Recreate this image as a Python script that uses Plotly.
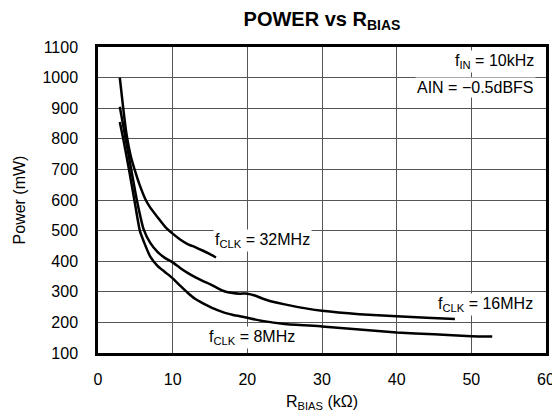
import plotly.graph_objects as go

# Data (R_BIAS in kOhm, Power in mW)
x32 = [2.92, 3.4, 3.8, 4.4, 5.0, 5.6, 6.4, 7.0, 8.0, 9.0, 10.0, 11.0, 12.0, 13.0, 14.0, 15.0, 15.8]
p32 = [1000, 895, 818, 742, 692, 648, 600, 575, 543, 512, 490, 471, 456, 446, 435, 423, 412]

x16 = [2.92, 3.7, 4.45, 5.2, 6.1, 7.0, 8.0, 9.0, 10.0, 11.0, 12.0, 13.0, 14.0, 15.0, 16.0, 17.0, 18.0,
       19.0, 20.0, 21.0, 22.0, 23.0, 24.0, 26.0, 28.0, 30.0, 35.0, 40.0, 44.0, 47.8]
p16 = [905, 800, 700, 600, 505, 460, 430, 410, 396, 378, 362, 348, 336, 325, 312, 301, 296,
       294, 294, 288, 278, 270, 264, 254, 245, 238, 227, 220, 215, 211]

x8 = [2.92, 3.38, 4.15, 4.87, 5.6, 6.2, 7.0, 8.0, 9.0, 10.0, 11.0, 12.0, 13.0, 14.0, 15.0, 16.0, 17.0,
      18.0, 19.0, 20.0, 22.0, 25.0, 30.0, 35.0, 40.0, 45.0, 50.0, 52.8]
p8 = [855, 800, 700, 600, 500, 460, 415, 384, 364, 344, 320, 297, 277, 263, 251, 240, 231,
      225, 220, 215, 205, 195, 187, 177, 167, 161, 155, 154]

x_ticks = [0, 10, 20, 30, 40, 50, 60]
y_ticks = [100, 200, 300, 400, 500, 600, 700, 800, 900, 1000, 1100]

FONT = "Liberation Sans, Arial, Helvetica, sans-serif"
FS = 16

fig = go.Figure()
for xs, ys in [(x32, p32), (x16, p16), (x8, p8)]:
    fig.add_trace(go.Scatter(x=xs, y=ys, mode="lines",
                             line=dict(color="black", width=2.5, shape="spline", smoothing=0.5),
                             showlegend=False, hoverinfo="skip"))

labels = [
    ("f<sub>CLK</sub> = 32MHz", 22.0, 468, "center"),
    ("f<sub>CLK</sub> = 16MHz", 51.9, 258, "center"),
    ("f<sub>CLK</sub> = 8MHz", 20.6, 150, "center"),
    ("f<sub>IN</sub> = 10kHz", 58.7, 1052, "right"),
    ("AIN = \u22120.5dBFS", 58.7, 968, "right"),
]
for text, ax, ay, anc in labels:
    fig.add_annotation(x=ax, y=ay, xref="x", yref="y", text=text, showarrow=False,
                       xanchor=anc, yanchor="middle", bgcolor="white", borderpad=1,
                       font=dict(family=FONT, size=FS, color="black"))

# page body adds an 8px offset, so the figure is sized to fit inside the window
fig.update_layout(
    width=552, height=407,
    margin=dict(l=90, r=14, t=39, b=62, autoexpand=False),
    paper_bgcolor="white", plot_bgcolor="white",
    title=dict(text="<b>POWER vs R<sub>BIAS</sub></b>", x=(90 + 224) / 552, xanchor="center",
               y=1 - 11 / 407, yanchor="middle", font=dict(family=FONT, size=20, color="black")),
    font=dict(family=FONT, size=FS, color="black"),
)
fig.update_xaxes(range=[0, 60], tickvals=x_ticks, showgrid=True, gridcolor="#555555", gridwidth=1,
                 showline=True, linecolor="black", linewidth=2.5, mirror=True, zeroline=False,
                 ticks="", ticklabelstandoff=10, automargin=False,
                 tickfont=dict(size=FS),
                 title=dict(text="R<sub>BIAS</sub> (k\u03a9)", standoff=9, font=dict(size=FS)))
fig.update_yaxes(range=[100, 1100], tickvals=y_ticks, showgrid=True, gridcolor="#555555", gridwidth=1,
                 showline=True, linecolor="black", linewidth=2.5, mirror=True, zeroline=False,
                 ticks="", ticklabelstandoff=14, automargin=False,
                 tickfont=dict(size=FS),
                 title=dict(text="Power (mW)", standoff=13, font=dict(size=FS)))

fig.write_html("out.html")
